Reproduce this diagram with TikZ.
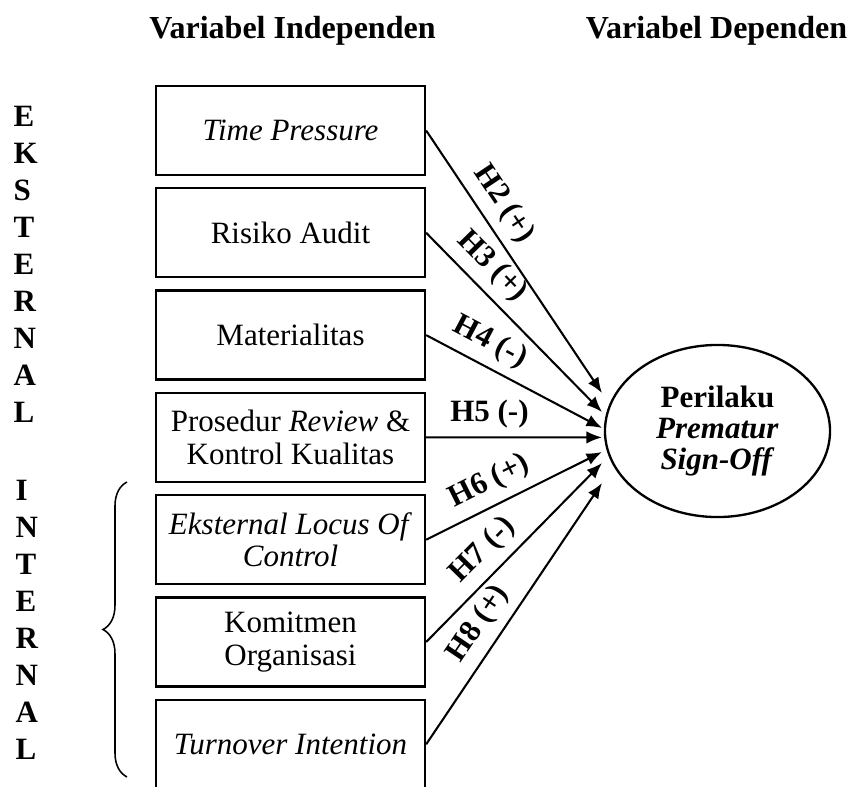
\documentclass[tikz,border=0pt]{standalone}
\usepackage{fontspec}
\setmainfont{Liberation Serif}
\usetikzlibrary{positioning,shapes.geometric,arrows.meta,decorations.pathreplacing}
\newcommand{\figsize}{\fontsize{12}{12.5}\selectfont}
\tikzset{var box/.style={draw,line width=0.9pt,minimum width=104.1pt,minimum height=34.44pt,inner sep=1pt,align=center,font=\figsize}}
\tikzset{hyp edge/.style={line width=0.8pt,-{Latex[length=6pt,width=4.8pt]}}}
\tikzset{hyp label/.style={sloped,above,font=\figsize\bfseries}}
\tikzset{side label/.style={anchor=west,inner sep=0pt,align=left,font=\fontsize{12}{14.3}\selectfont\bfseries}}

\begin{document}
\begin{tikzpicture}[x=0.387pt,y=-0.387pt]

\useasboundingbox (0,0) rectangle (850,787);

\node[anchor=base,font=\fontsize{12.4}{13}\selectfont\bfseries] (indep) at (292.5,38) {Variabel Independen};
\node[anchor=base,font=\fontsize{12.4}{13}\selectfont\bfseries] (dep) at (716.5,38) {Variabel Dependen};

\node[var box] (time) at (290.5,130.5) {\textit{Time Pressure}};
\node[var box,below=4.25pt of time] (risk) {Risiko Audit};
\node[var box,below=4.25pt of risk] (mat) {Materialitas};
\node[var box,below=4.25pt of mat] (proc) {Prosedur \textit{Review} \&\\Kontrol Kualitas};
\node[var box,below=4.25pt of proc] (locus) {\textit{Eksternal Locus Of}\\\textit{Control}};
\node[var box,below=4.25pt of locus] (komit) {Komitmen\\Organisasi};
\node[var box,below=4.25pt of komit] (turn) {\textit{Turnover Intention}};

\node[ellipse,draw,line width=0.9pt,minimum width=87.1pt,minimum height=66.6pt,inner sep=0pt,
      align=center,font=\fontsize{12}{12}\selectfont\bfseries] (pso) at (717.5,431)
      {Perilaku\\\textit{Prematur}\\\textit{Sign-Off}};

\node[side label] (ekst) at (13,264.5) {E\\K\\S\\T\\E\\R\\N\\A\\L};
\node[side label] (intr) at (15,620) {I\\N\\T\\E\\R\\N\\A\\L};

\coordinate (int top) at (127,482);
\coordinate (int bottom) at (127,777);
\draw[decorate,decoration={brace,amplitude=9.3pt},line width=0.6pt] (int bottom) -- (int top);

\coordinate (t2) at (602,393);
\coordinate (t3) at (602,412);
\coordinate (t4) at (602,428);
\coordinate (t5) at (602,437.4);
\coordinate (t6) at (602,452);
\coordinate (t7) at (602,463);
\coordinate (t8) at (602,483);

\draw[hyp edge] (time.east) -- node[hyp label,pos=0.33] {H2 (+)} (t2);
\draw[hyp edge] (risk.east) -- node[hyp label,pos=0.28] {H3 (+)} (t3);
\draw[hyp edge] (mat.east) -- node[hyp label,pos=0.3] {H4 (-)} (t4);
\draw[hyp edge] (proc.east) -- node[hyp label,pos=0.36] {H5 (-)} (t5);
\draw[hyp edge] (locus.east) -- node[hyp label,pos=0.42] {H6 (+)} (t6);
\draw[hyp edge] (komit.east) -- node[hyp label,pos=0.42] {H7 (-)} (t7);
\draw[hyp edge] (turn.east) -- node[hyp label,pos=0.41] {H8 (+)} (t8);

\end{tikzpicture}
\end{document}
